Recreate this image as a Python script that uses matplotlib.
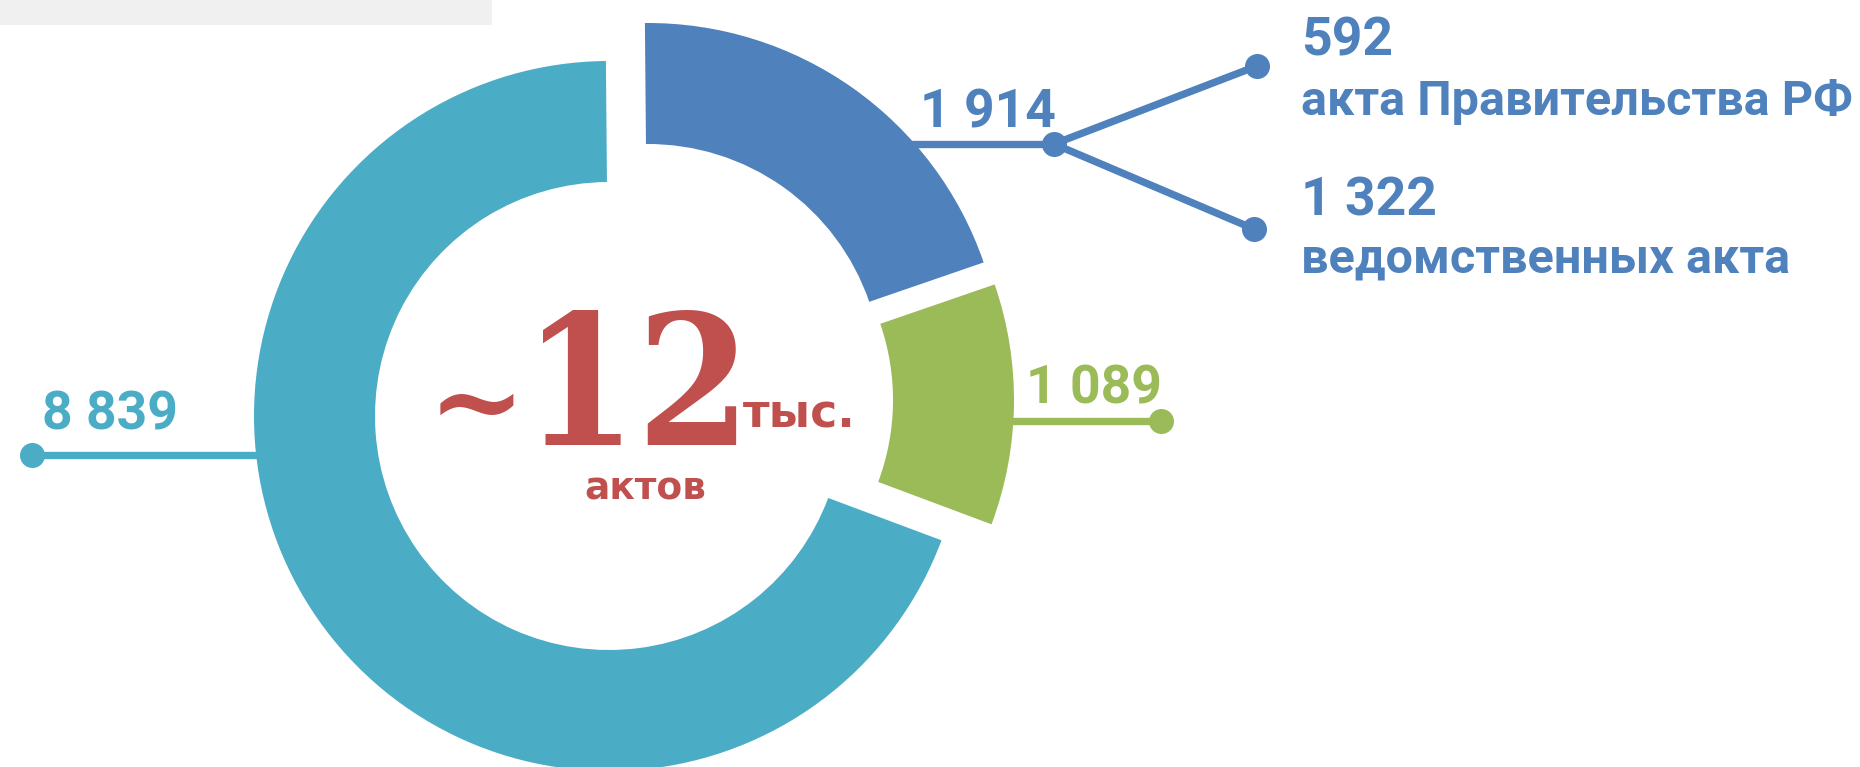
import matplotlib
matplotlib.use("Agg")
from matplotlib import pyplot as plt
from matplotlib import font_manager as fm
from matplotlib.patches import Wedge, Rectangle

# --- data ---
seg_values = [1914, 1089, 8839]          # blue, green, cyan
seg_arc_deg = [71.5, 39.5, 249.0]        # arc sizes as drawn in the original
seg_colors = ["#4f81bd", "#9bbb59", "#4bacc6"]
blue_parts = [592, 1322]
blue_part_labels = ["акта Правительства РФ", "ведомственных акта"]
total_value = "12"
total_unit = "тыс."
total_caption = "актов"
RED = "#c0504d"

W, H = 1860, 767


def P(x, y):
    # picture pixels (y down) -> axes data (y up)
    return x, H - y


def fmt(v):
    return f"{v:,}".replace(",", " ")


fig = plt.figure(figsize=(W / 100, H / 100), dpi=100)
ax = fig.add_axes([0, 0, 1, 1])
ax.set_xlim(0, W)
ax.set_ylim(0, H)
ax.axis("off")

# grey strip top-left
ax.add_patch(Rectangle(P(0, 25), 492, 25, color="#f0f0f0", lw=0))

# ring segments, each shifted a little away from the centre
R_OUT, RING = 355, 121
centers = [(648, 378), (659, 400), (609, 416)]
a = 90.5
for span, col, c in zip(seg_arc_deg, seg_colors, centers):
    ax.add_patch(Wedge(P(*c), R_OUT, a - span, a, width=RING,
                       color=col, lw=0, zorder=3))
    a -= span

LW = 5.3
MS = 17
num_font = dict(family=["Roboto", "DejaVu Sans"], fontweight="bold", fontsize=38.5)

# cyan leader
cy_col = seg_colors[2]
ax.plot(*zip(P(32, 455), P(258, 455)), color=cy_col, lw=LW, zorder=2,
        solid_capstyle="butt")
ax.plot(*P(32, 455), "o", color=cy_col, ms=MS, zorder=4)
ax.text(*P(42, 430), fmt(seg_values[2]), color=cy_col, ha="left",
        va="baseline", **num_font)

# green leader
gr_col = seg_colors[1]
ax.plot(*zip(P(1000, 421), P(1161, 421)), color=gr_col, lw=LW, zorder=2)
ax.plot(*P(1161, 421), "o", color=gr_col, ms=MS, zorder=4)
ax.text(*P(1026, 403), fmt(seg_values[1]), color=gr_col, ha="left",
        va="baseline", **num_font)

# blue leader with two branches
bl_col = seg_colors[0]
junction = (1054, 144)
ax.plot(*zip(P(890, 144), P(*junction)), color=bl_col, lw=LW, zorder=2)
ends = [(1257, 66), (1254, 229)]
for e in ends:
    ax.plot(*zip(P(*junction), P(*e)), color=bl_col, lw=LW, zorder=2)
    ax.plot(*P(*e), "o", color=bl_col, ms=MS, zorder=4)
ax.plot(*P(*junction), "o", color=bl_col, ms=MS, zorder=4)
ax.text(*P(920, 127), fmt(seg_values[0]), color=bl_col, ha="left",
        va="baseline", **num_font)

part_y = [(55, 115), (215, 272)]
for v, lab, (yn, yl) in zip(blue_parts, blue_part_labels, part_y):
    ax.text(*P(1301, yn), fmt(v), color=bl_col, ha="left", va="baseline",
            **num_font)
    ax.text(*P(1301, yl), lab, color=bl_col, ha="left", va="baseline",
            family=["Roboto", "DejaVu Sans"], fontweight="bold", fontsize=35)

# centre label: heavy slab figures, condensed if such a face exists
cond = fm.FontProperties(family="DejaVu Serif", weight="bold", stretch="condensed")
big_size = 131 if "Condensed" in fm.findfont(cond) else 114
ax.text(*P(523, 445), total_value, color=RED, ha="left", va="baseline",
        family="DejaVu Serif", fontweight="bold", fontstretch="condensed",
        fontsize=big_size, zorder=5)
ax.text(*P(476, 408), "~", color=RED, ha="center", va="center",
        family="DejaVu Serif", fontweight="bold", fontsize=84, zorder=5)
ax.text(*P(743, 428), total_unit, color=RED, ha="left", va="baseline",
        family="DejaVu Sans", fontweight="bold", fontsize=33, zorder=5)
ax.text(*P(645, 500), total_caption, color=RED, ha="center", va="baseline",
        family="DejaVu Sans", fontweight="bold", fontsize=27, zorder=5)

fig.savefig("out.png", dpi=100)
